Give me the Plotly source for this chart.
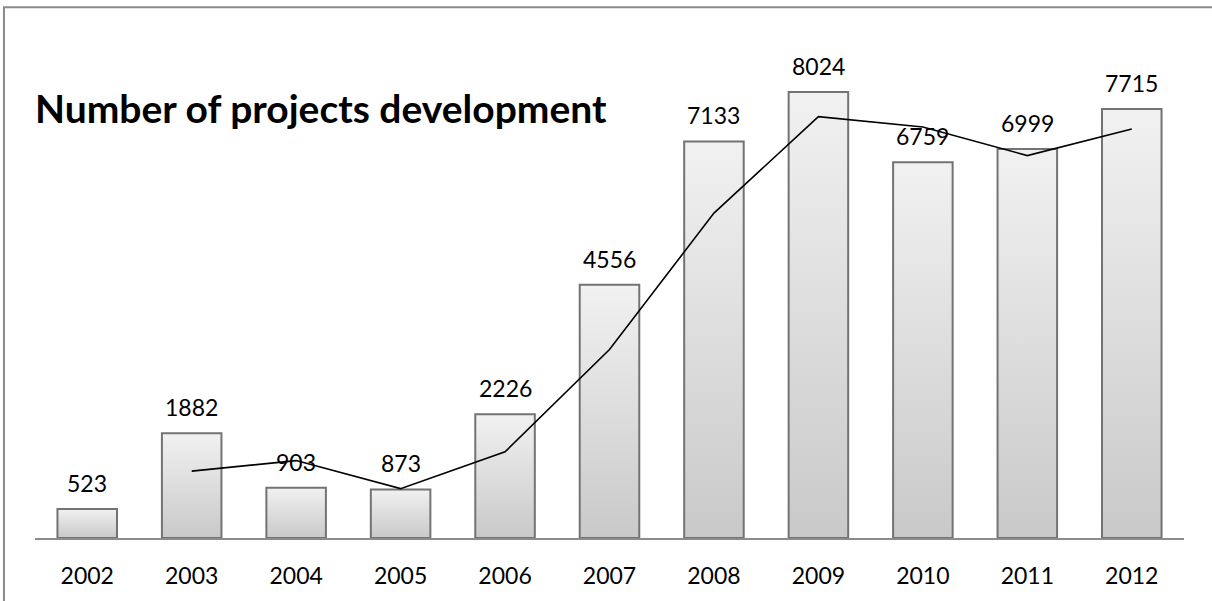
import plotly.graph_objects as go

years = ["2002", "2003", "2004", "2005", "2006", "2007", "2008", "2009", "2010", "2011", "2012"]
projects = [523, 1882, 903, 873, 2226, 4556, 7133, 8024, 6759, 6999, 7715]
# trend line (2-period moving average as drawn), starting at 2003
trend_years = ["2003", "2004", "2005", "2006", "2007", "2008", "2009", "2010", "2011", "2012"]
trend_values = [1202.5, 1392.5, 888, 1549.5, 3391, 5844.5, 7578.5, 7391.5, 6879, 7357]
title_text = "Number of projects development"

FONT = "Lato"
BAR_W = 0.57

pos = {y: i for i, y in enumerate(years)}

fig = go.Figure()
# bars as gradient-filled rectangles positioned on the axis scale
for yr, v in zip(years, projects):
    i = pos[yr]
    x0, x1 = i - BAR_W / 2, i + BAR_W / 2
    fig.add_trace(go.Scatter(
        x=[x0, x0, x1, x1, x0], y=[0, v, v, 0, 0],
        mode="lines", fill="toself",
        fillgradient=dict(type="vertical", colorscale=[[0, "#c9c9c9"], [1, "#f1f1f1"]]),
        line=dict(color="#737373", width=2),
        hoverinfo="skip",
    ))

fig.add_trace(go.Scatter(
    x=[pos[y] for y in trend_years], y=trend_values, mode="lines",
    line=dict(color="black", width=1.6),
))

for yr, v in zip(years, projects):
    fig.add_annotation(x=pos[yr], y=v, text=str(v), showarrow=False,
                       yanchor="middle", yshift=26,
                       font=dict(family=FONT, size=23, color="black"))

fig.add_annotation(xref="paper", yref="paper", x=0, y=1.0, xanchor="left", yanchor="middle",
                   text="<b>" + title_text + "</b>", showarrow=False,
                   yshift=-46, xshift=-2,
                   font=dict(family=FONT, size=39, color="black"))

# outer frame
fig.add_shape(type="rect", xref="paper", yref="paper",
              x0=-0.027, x1=1.1, y0=-0.2, y1=1.115,
              line=dict(color="#8a8a8a", width=2), fillcolor="rgba(0,0,0,0)", layer="below")

fig.update_layout(
    width=1212, height=601,
    margin=dict(l=35, r=28, t=62, b=61),
    paper_bgcolor="white", plot_bgcolor="white",
    showlegend=False,
    font=dict(family=FONT, size=23, color="black"),
    xaxis=dict(range=[-0.5, 10.5], showline=True, linecolor="#8c8c8c", linewidth=1.5,
               tickmode="array", tickvals=list(range(len(years))), ticktext=years,
               ticks="outside", ticklen=17, tickcolor="rgba(0,0,0,0)",
               tickfont=dict(family=FONT, size=23, color="black"), showgrid=False, zeroline=False),
    yaxis=dict(range=[0, 8562], showticklabels=False, showline=False, ticks="",
               showgrid=False, zeroline=False),
)

fig.write_html("out.html")
